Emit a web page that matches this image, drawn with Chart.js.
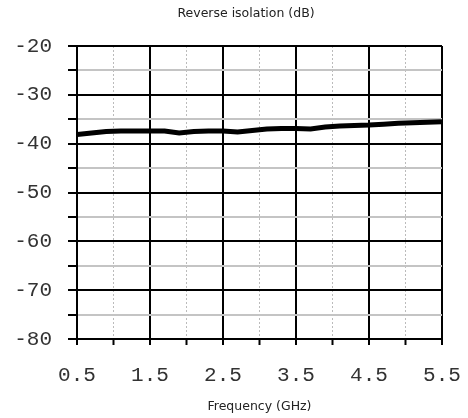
<!DOCTYPE html>
<html lang="en">
<head>
  <meta charset="UTF-8">
  <title>Reverse isolation</title>
  <script src="https://cdn.jsdelivr.net/npm/chart.js"></script>
  <style>
    html, body { margin: 0; padding: 0; background: #fff; }
    #wrap { width: 468px; height: 418px; }
  </style>
</head>
<body>
  <div id="wrap"><canvas id="chart" width="468" height="418"></canvas></div>

  <script>
    const freqGHz = [0.5, 0.7, 0.9, 1.1, 1.3, 1.5, 1.7, 1.9, 2.1, 2.3, 2.5, 2.7, 2.9,
                     3.1, 3.3, 3.5, 3.7, 3.9, 4.1, 4.3, 4.5, 4.7, 4.9, 5.1, 5.3, 5.5];
    const isolationDb = [-38.1, -37.8, -37.5, -37.4, -37.4, -37.4, -37.4, -37.8, -37.5, -37.4, -37.4, -37.6, -37.3,
                         -37.0, -36.9, -36.9, -37.0, -36.6, -36.4, -36.3, -36.2, -36.0, -35.8, -35.7, -35.6, -35.5];
    const xTickLabels = ["0.5", "1.5", "2.5", "3.5", "4.5", "5.5"];
    const yTickLabels = ["-20", "-30", "-40", "-50", "-60", "-70", "-80"];

    const monoFont = { family: "'Liberation Mono', monospace", size: 21 };
    const sansFont = { family: "'DejaVu Sans', sans-serif", size: 12.5, weight: "normal" };
    const isMajorX = v => xTickLabels.includes(v.toFixed(1));
    const isMajorY = v => yTickLabels.includes(String(v));

    new Chart(document.getElementById("chart"), {
      type: "line",
      data: {
        datasets: [{
          data: freqGHz.map((f, i) => ({ x: f, y: isolationDb[i] })),
          borderColor: "#000",
          borderWidth: 5,
          pointRadius: 0,
          tension: 0,
          fill: false
        }]
      },
      options: {
        responsive: false,
        animation: false,
        // negative right padding widens the title box so the title sits where the original has it
        layout: { padding: { left: 0, right: -24, top: 0, bottom: 0 } },
        plugins: {
          legend: { display: false },
          tooltip: { enabled: false },
          title: {
            display: true,
            text: "Reverse isolation (dB)",
            color: "#222",
            font: sansFont,
            padding: { top: 6, bottom: 25 }
          }
        },
        scales: {
          x: {
            type: "linear",
            min: 0.5,
            max: 5.5,
            afterFit: s => { s.height = 79; s.paddingLeft = 0; s.paddingRight = 26; },
            ticks: {
              stepSize: 0.5,
              autoSkip: false,
              maxRotation: 0,
              color: "#333",
              font: monoFont,
              padding: 18,
              callback: v => isMajorX(v) ? v.toFixed(1) : ""
            },
            grid: {
              color: c => isMajorX(c.tick.value) ? "#000" : "#bbb",
              lineWidth: c => isMajorX(c.tick.value) ? 2 : 1,
              tickColor: "#000",
              tickLength: 6,
              tickWidth: 2
            },
            border: {
              color: "#000",
              width: 2,
              dash: c => (c.tick && !isMajorX(c.tick.value)) ? [2, 2] : []
            },
            title: {
              display: true,
              text: "Frequency (GHz)",
              color: "#222",
              font: sansFont,
              padding: { top: 4, bottom: 4 }
            }
          },
          y: {
            min: -80,
            max: -20,
            afterFit: s => { s.width = 77; },
            ticks: {
              stepSize: 5,
              autoSkip: false,
              color: "#333",
              font: monoFont,
              padding: 16,
              callback: v => isMajorY(v) ? String(v) : ""
            },
            grid: {
              color: c => isMajorY(c.tick.value) ? "#000" : "#c4c4c4",
              lineWidth: 2,
              tickColor: "#000",
              tickLength: 9,
              tickWidth: 2
            },
            border: { color: "#000", width: 2 }
          }
        }
      }
    });
  </script>
</body>
</html>
